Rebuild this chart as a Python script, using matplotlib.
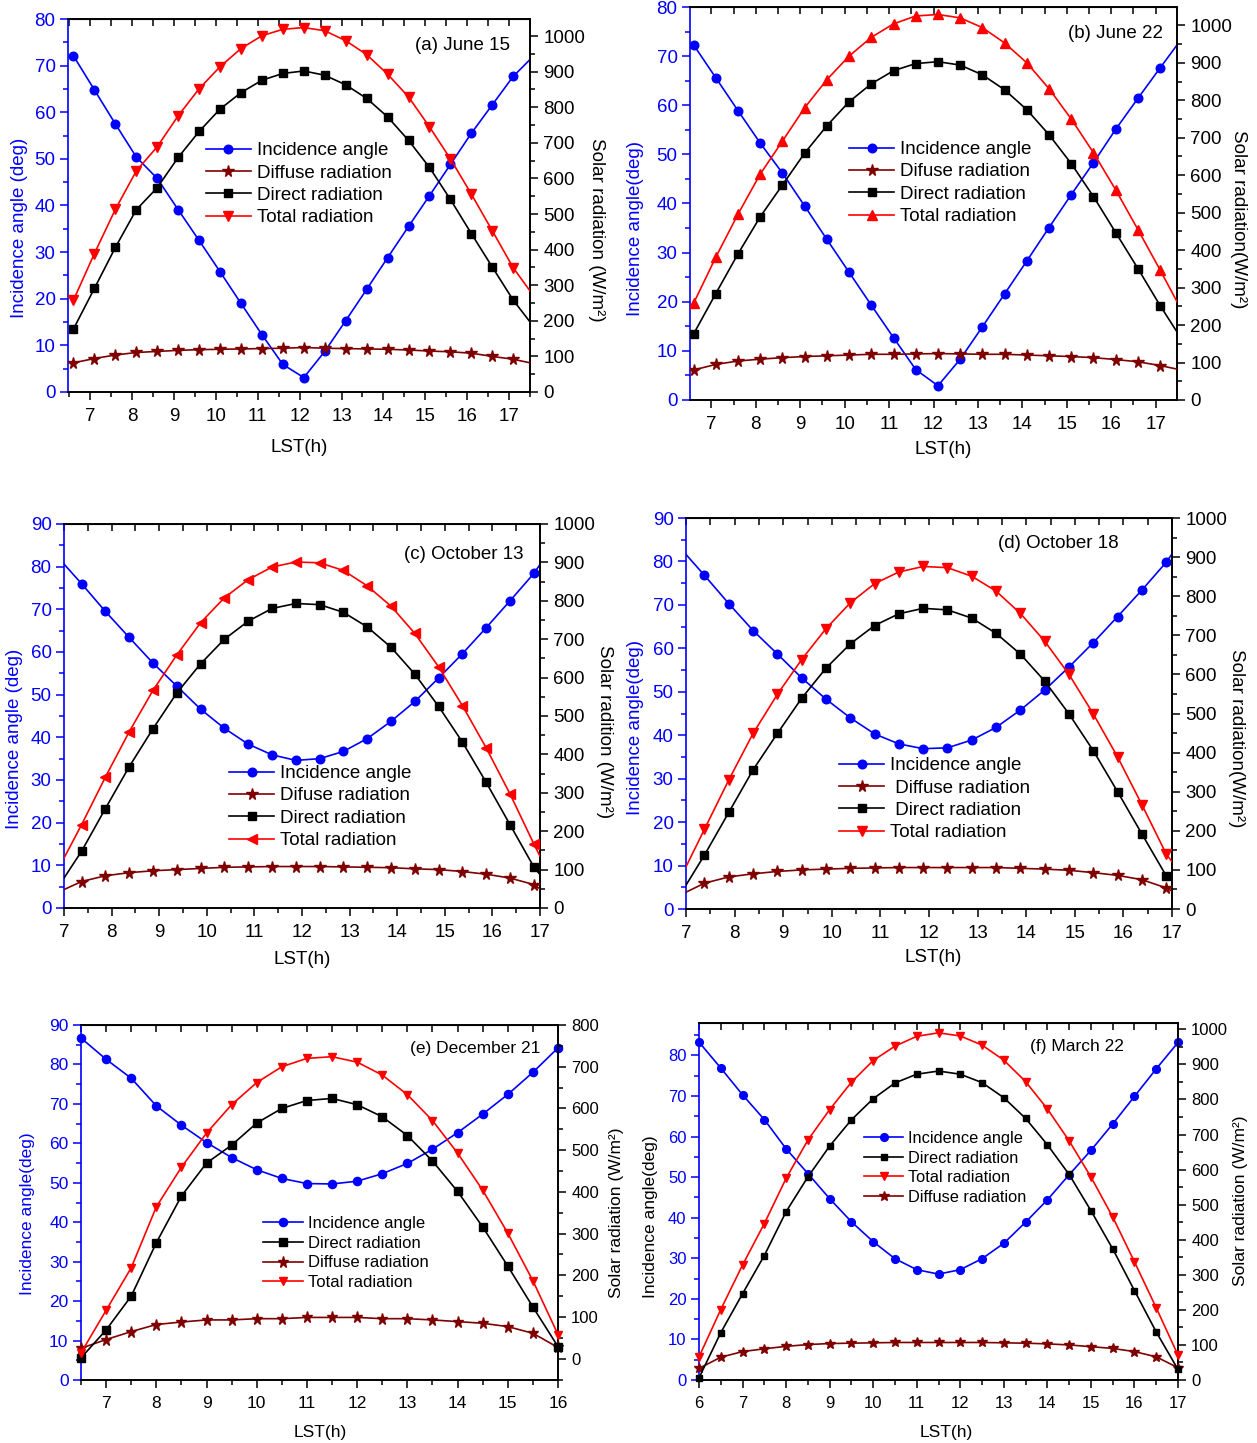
import matplotlib
matplotlib.use('Agg')
import matplotlib.pyplot as plt
from matplotlib.ticker import MultipleLocator

plt.rcParams['font.family'] = ['Liberation Sans', 'DejaVu Sans']

BLUE = '#0000ff'
MAROON = '#7f0000'
RED = '#ff0000'
BLACK = '#000000'

# ---------------- data ----------------
# (a) June 15  (last value = line end at the right frame)
a_x = [6.6, 7.1, 7.6, 8.1, 8.6, 9.1, 9.6, 10.1, 10.6, 11.1, 11.6, 12.1, 12.6, 13.1,
       13.6, 14.1, 14.6, 15.1, 15.6, 16.1, 16.6, 17.1, 17.5]
a_inc = [72.1, 64.8, 57.5, 50.4, 45.8, 39.1, 32.5, 25.8, 19.0, 12.3, 5.9, 3.1, 8.7, 15.3,
         22.0, 28.8, 35.5, 42.1, 48.8, 55.5, 61.6, 67.7, 71.3]
a_dif = [82, 94, 104, 111, 114, 117, 119, 120, 121, 122, 123, 125, 123, 122, 121, 120,
         118, 115, 113, 109, 100, 92, 82]
a_dir = [177, 291, 406, 512, 574, 659, 732, 795, 841, 876, 895, 902, 890, 863, 825, 773,
         707, 631, 541, 445, 351, 258, 197]
a_tot = [258, 389, 513, 621, 689, 776, 852, 914, 965, 1001, 1019, 1024, 1015, 987, 948,
         893, 829, 745, 655, 556, 453, 349, 284]

# (b) June 22
b_x = a_x
b_inc = [72.3, 65.6, 58.9, 52.3, 46.2, 39.5, 32.7, 26.0, 19.3, 12.7, 6.2, 2.9, 8.3, 14.9,
         21.6, 28.3, 35.1, 41.8, 48.3, 55.1, 61.4, 67.6, 72.5]
b_dif = [80, 95, 104, 109, 113, 116, 118, 120, 122, 122, 123, 124, 123, 122, 122, 120,
         118, 116, 113, 108, 102, 92, 82]
b_dir = [176, 284, 390, 489, 574, 659, 732, 796, 844, 879, 898, 903, 894, 868, 828, 775,
         708, 631, 543, 447, 351, 252, 178]
b_tot = [258, 381, 496, 603, 691, 780, 855, 918, 968, 1004, 1025, 1029, 1020, 994, 953,
         900, 831, 750, 660, 561, 455, 347, 258]

# (c) October 13 (first/last value = line ends at the frame)
c_x = [7.0, 7.37, 7.87, 8.37, 8.87, 9.37, 9.87, 10.37, 10.87, 11.37, 11.87, 12.37, 12.87,
       13.37, 13.87, 14.37, 14.87, 15.37, 15.87, 16.37, 16.87, 17.0]
c_inc = [80.6, 76.0, 69.5, 63.4, 57.4, 52.0, 46.6, 42.1, 38.4, 35.9, 34.6, 35.0, 36.7,
         39.7, 43.75, 48.4, 53.9, 59.6, 65.7, 72.0, 78.4, 80.5]
c_dif = [48, 69, 84, 92, 97, 100, 103, 106, 107, 108, 108, 108, 107, 106, 105, 102, 100,
         95, 88, 78, 61, 50]
c_dir = [78, 148, 259, 368, 467, 560, 636, 700, 747, 780, 793, 790, 770, 732, 679, 609,
         525, 432, 327, 217, 107, 87]
c_tot = [130, 217, 341, 459, 567, 659, 743, 808, 855, 888, 901, 899, 879, 839, 786, 715,
         628, 527, 417, 297, 167, 135]

# (d) October 18
d_x = [7.0, 7.38, 7.88, 8.38, 8.88, 9.38, 9.88, 10.38, 10.88, 11.38, 11.88, 12.38, 12.88,
       13.38, 13.88, 14.38, 14.88, 15.38, 15.88, 16.38, 16.88, 17.0]
d_inc = [81.6, 76.8, 70.3, 64.1, 58.7, 53.2, 48.3, 44.0, 40.3, 38.0, 36.9, 37.1, 38.9,
         41.8, 45.8, 50.4, 55.7, 61.3, 67.3, 73.4, 79.8, 81.7]
d_dif = [43, 66, 82, 90, 96, 100, 102, 104, 105, 106, 106, 106, 106, 106, 104, 102, 99,
         93, 86, 75, 54, 46]
d_dir = [61, 138, 247, 356, 449, 539, 616, 678, 725, 755, 769, 765, 744, 705, 652, 583,
         499, 405, 300, 192, 85, 74]
d_tot = [108, 204, 330, 449, 549, 638, 717, 783, 832, 862, 876, 873, 851, 813, 756, 685,
         600, 499, 389, 267, 141, 121]

# (e) December 21
e_x = [6.5, 7.0, 7.5, 8.0, 8.5, 9.0, 9.5, 10.0, 10.5, 11.0, 11.5, 12.0, 12.5, 13.0, 13.5,
       14.0, 14.5, 15.0, 15.5, 16.0]
e_inc = [86.7, 81.3, 76.5, 69.5, 64.6, 60.2, 56.4, 53.3, 51.1, 49.8, 49.7, 50.4, 52.3,
         54.9, 58.5, 62.7, 67.4, 72.4, 78.0, 84.2]
e_dif = [25, 46, 65, 82, 88, 93, 93, 96, 96, 99, 99, 99, 96, 96, 93, 89, 85, 77, 61, 27]
e_dir = [2, 69, 150, 278, 390, 469, 512, 565, 600, 619, 624, 609, 580, 535, 474, 401, 316,
         222, 124, 29]
e_tot = [14, 116, 218, 364, 459, 541, 609, 662, 700, 720, 724, 711, 680, 633, 571, 493,
         404, 301, 187, 58]

# (f) March 22
f_x = [6.0, 6.5, 7.0, 7.5, 8.0, 8.5, 9.0, 9.5, 10.0, 10.5, 11.0, 11.5, 12.0, 12.5, 13.0,
       13.5, 14.0, 14.5, 15.0, 15.5, 16.0, 16.5, 17.0]
f_inc = [83.3, 76.9, 70.3, 64.2, 57.0, 50.9, 44.7, 39.0, 34.1, 29.9, 27.2, 26.1, 27.2,
         29.9, 33.7, 38.9, 44.4, 50.6, 56.6, 63.1, 69.9, 76.7, 83.2]
f_dif = [33, 65, 81, 89, 96, 101, 104, 105, 106, 107, 107, 107, 107, 107, 106, 105, 103,
         100, 95, 90, 81, 66, 35]
f_dir = [6, 135, 246, 355, 480, 579, 667, 742, 802, 847, 872, 881, 872, 848, 805, 746, 671,
         586, 483, 374, 255, 137, 30]
f_tot = [66, 201, 328, 446, 575, 684, 771, 849, 911, 952, 980, 990, 981, 955, 912, 851, 773,
         682, 579, 465, 337, 206, 71]

titles = ['(a) June 15', '(b) June 22', '(c) October 13', '(d) October 18',
          '(e) December 21', '(f) March 22']

# ---------------- layout ----------------
W, H = 1257, 1443
fig = plt.figure(figsize=(W / 100, H / 100), dpi=100)


def fxy(px, py):
    return px / W, 1 - py / H


def draw(box, x, inc, dif, dr, tot, xlim, yl, yr, xmaj_start, mev, tmark, order,
         labels, leg, leg_fs, title, title_xy, ylab_l, ylab_l_xy, ylab_l_col, ylab_r,
         ylab_r_xy, rot_r, xlab_xy, fs_tick, fs_rtick, fs_lab, clip, rminor_from, ms=1.0):
    l, t, r, b = box
    ax = fig.add_axes([l / W, 1 - b / H, (r - l) / W, (b - t) / H])
    ax2 = ax.twinx()
    lw = 1.2
    h = {}
    h['inc'], = ax.plot(x, inc, color=BLUE, lw=lw, marker='o', ms=6.2 * ms, markevery=mev,
                        clip_on=clip, zorder=3)
    h['dif'], = ax2.plot(x, dif, color=MAROON, lw=lw, marker='*', ms=8.5 * ms,
                         markevery=mev, clip_on=clip, zorder=3)
    h['dir'], = ax2.plot(x, dr, color=BLACK, lw=lw, marker='s', ms=5.4 * ms, markevery=mev,
                         clip_on=clip, zorder=3)
    h['tot'], = ax2.plot(x, tot, color=RED, lw=lw, marker=tmark, ms=6.6 * ms,
                         markevery=mev, clip_on=clip, zorder=3)
    ax.set_xlim(*xlim)
    ax.set_ylim(*yl)
    ax2.set_ylim(*yr)

    ax.set_xticks([v for v in range(xmaj_start, int(xlim[1]) + 1)])
    ax.xaxis.set_minor_locator(MultipleLocator(0.5))
    ax.yaxis.set_major_locator(MultipleLocator(10))
    ax.yaxis.set_minor_locator(MultipleLocator(5))
    ax2.set_yticks(list(range(0, int(yr[1]) + 1, 100)))
    ax2.set_yticks([v for v in range(rminor_from, int(yr[1]) + 1, 50) if v % 100 != 0],
                   minor=True)

    ax.tick_params(axis='x', which='both', direction='out', top=False, bottom=True,
                   labelsize=fs_tick, colors=BLACK, width=1.1)
    ax.tick_params(axis='x', which='major', length=5.5, pad=6)
    ax.tick_params(axis='x', which='minor', length=3.5)
    ax.tick_params(axis='y', which='both', direction='out', left=True, right=False,
                   colors=BLUE, labelsize=fs_tick, width=1.1)
    ax.tick_params(axis='y', which='major', length=5.5)
    ax.tick_params(axis='y', which='minor', length=3.5)
    ax2.tick_params(axis='y', which='both', direction='out', right=True,
                    colors=BLACK, labelsize=fs_rtick, width=1.1)
    ax2.tick_params(axis='y', which='major', length=5.5, pad=4)
    ax2.tick_params(axis='y', which='minor', length=3.5)

    sec = ax.secondary_xaxis('top')
    sec.xaxis.set_major_locator(MultipleLocator(0.5))
    sec.tick_params(axis='x', direction='in', length=5, width=1.1, labeltop=False,
                    labelbottom=False)

    for sp in ax.spines.values():
        sp.set_linewidth(1.2)
    for sp in ax2.spines.values():
        sp.set_linewidth(1.2)
    ax.spines['left'].set_color(BLUE)
    ax2.spines['left'].set_visible(False)

    handles = [h[k] for k in order]
    lx, ly = fxy(*leg)
    ax2.legend(handles, labels, loc='upper left', bbox_to_anchor=(lx, ly),
               bbox_transform=fig.transFigure, frameon=False, borderpad=0,
               borderaxespad=0, handlelength=2.4, handletextpad=0.3,
               labelspacing=0.28, fontsize=leg_fs)

    tx, ty = fxy(*title_xy)
    fig.text(tx, ty, title, ha='right', va='center', fontsize=fs_lab)
    ylx, yly = fxy(*ylab_l_xy)
    fig.text(ylx, yly, ylab_l, rotation=90, ha='center', va='center',
             color=ylab_l_col, fontsize=fs_lab)
    yrx, yry = fxy(*ylab_r_xy)
    fig.text(yrx, yry, ylab_r, rotation=rot_r, ha='center', va='center',
             color=BLACK, fontsize=fs_lab, rotation_mode='anchor')
    xlx, xly = fxy(*xlab_xy)
    fig.text(xlx, xly, 'LST(h)', ha='center', va='center', fontsize=fs_lab)


std = ['inc', 'dif', 'dir', 'tot']

draw((68, 19, 530, 392), a_x, a_inc, a_dif, a_dir, a_tot, (6.47, 17.5), (0, 80), (0, 1048),
     7, slice(0, -1), 'v', std,
     ['Incidence angle', 'Diffuse radiation', 'Direct radiation', 'Total radiation'],
     (206, 142), 13.5, titles[0], (510, 46),
     'Incidence angle (deg)', (20, 228), BLUE, 'Solar radiation (W/m²)', (597, 230), 270,
     (299, 447), 13.5, 13.5, 13.5, True, 50)

draw((690, 7, 1177, 400), b_x, b_inc, b_dif, b_dir, b_tot, (6.52, 17.48), (0, 80), (0, 1049),
     7, slice(0, -1), '^', std,
     ['Incidence angle', 'Difuse radiation', 'Direct radiation', 'Total radiation'],
     (849, 141), 13.5, titles[1], (1163, 33),
     'Incidence angle(deg)', (636, 228), BLUE, 'Solar radiation(W/m²)', (1238, 219), 270,
     (943, 450), 13.5, 13.5, 13.5, True, 50)

draw((64, 524, 540, 908), c_x, c_inc, c_dif, c_dir, c_tot, (7, 17), (0, 90), (0, 1000),
     7, slice(1, -1), '<', std,
     ['Incidence angle', 'Difuse radiation', 'Direct radiation', 'Total radiation'],
     (229, 765), 13.5, titles[2], (524, 554),
     'Incidence angle (deg)', (15, 739), BLUE, 'Solar radition (W/m²)', (605, 732), 270,
     (302, 960), 13.5, 13.5, 13.5, True, 50)

draw((686, 518, 1172, 909), d_x, d_inc, d_dif, d_dir, d_tot, (7, 17), (0, 90), (0, 1000),
     7, slice(1, -1), 'v', std,
     ['Incidence angle', ' Diffuse radiation', ' Direct radiation', 'Total radiation'],
     (839, 757), 13.5, titles[3], (1119, 544),
     'Incidence angle(deg)', (636, 727), BLUE, 'Solar radiation(W/m²)', (1237, 738), 270,
     (933, 957), 13.5, 13.5, 13.5, True, 50)

draw((81, 1025, 558, 1380), e_x, e_inc, e_dif, e_dir, e_tot, (6.5, 16), (0, 90), (-51, 800),
     7, None, 'v', ['inc', 'dir', 'dif', 'tot'],
     ['Incidence angle', 'Direct radiation', 'Diffuse radiation', 'Total radiation'],
     (263, 1216), 12, titles[4], (540, 1048),
     'Incidence angle(deg)', (28, 1214), BLUE, 'Solar radiation (W/m²)', (617, 1213), 90,
     (320, 1432), 12.5, 12, 12.5, False, -50, ms=0.95)

draw((699, 1023, 1178, 1380), f_x, f_inc, f_dif, f_dir, f_tot, (6, 17), (0, 88), (0, 1018),
     6, None, 'v', ['inc', 'dir', 'tot', 'dif'],
     ['Incidence angle', 'Direct radiation', 'Total radiation', 'Diffuse radiation'],
     (864, 1131), 11.8, titles[5], (1124, 1047),
     'Incidence angle(deg)', (650, 1217), BLACK, 'Solar radiation (W/m²)', (1241, 1201), 90,
     (946, 1432), 12, 12, 12.5, False, 50, ms=0.9)

fig.savefig('out.png', dpi=100)
